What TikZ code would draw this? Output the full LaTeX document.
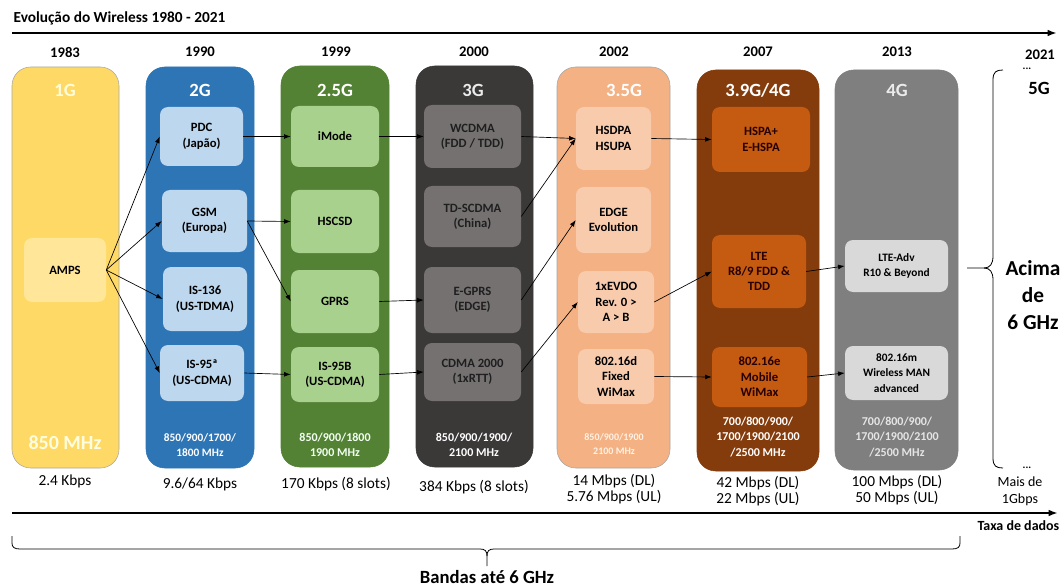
\documentclass[tikz,border=0pt]{standalone}
\usepackage{fontspec}
\setmainfont{Carlito}
\usetikzlibrary{arrows.meta}
\definecolor{cOne}{HTML}{FFD966}
\definecolor{cOneIn}{HTML}{FFE699}
\definecolor{cTwo}{HTML}{2E75B6}
\definecolor{cTwoIn}{HTML}{BDD7EE}
\definecolor{cTwoFive}{HTML}{548235}
\definecolor{cTwoFiveIn}{HTML}{A9D18E}
\definecolor{cThree}{HTML}{3B3838}
\definecolor{cThreeIn}{HTML}{757171}
\definecolor{cThreeFive}{HTML}{F4B183}
\definecolor{cThreeFiveIn}{HTML}{F8CBAD}
\definecolor{cLte}{HTML}{843C0C}
\definecolor{cLteIn}{HTML}{C55A11}
\definecolor{cFour}{HTML}{7F7F7F}
\definecolor{cFourIn}{HTML}{D9D9D9}
\tikzset{
	gcol/.style={rounded corners=14pt, line width=0.4pt},
	sz/.style 2 args={minimum width=#1*0.75pt, minimum height=#2*0.75pt},
	cell/.style={rounded corners=6pt, align=center, inner sep=1pt, font=\bfseries\fontsize{9.5}{11.5}\selectfont},
	link/.style={-{Latex[length=5pt,width=3.6pt]}, line width=0.5pt},
	axis/.style={-{Latex[length=7pt,width=5pt]}, line width=1.4pt},
	yr/.style={font=\bfseries\fontsize{11}{13}\selectfont},
	gen/.style={font=\bfseries\fontsize{14}{16}\selectfont},
	band/.style={align=center, font=\bfseries\fontsize{8.5}{11}\selectfont},
	rate/.style={align=center, font=\fontsize{11.5}{12.5}\selectfont},
}

\begin{document}
\begin{tikzpicture}[x=0.75pt, y=-0.75pt]
		%%%%% START %%%%%
		\useasboundingbox (0, 0) rectangle (1064, 588);
		
		\node[anchor=west, font=\bfseries\fontsize{11.5}{13}\selectfont] (ttl) at (9, 18) {Evolução do Wireless 1980 - 2021};
		\coordinate (top0) at (12, 33);
		\coordinate (top1) at (1057, 33);
		\draw[axis] (top0) -- (top1);
		
		% years
		\node[yr] (y83) at (65, 52) {1983};
		\node[yr] (y90) at (200, 52) {1990};
		\node[yr] (y99) at (336, 52) {1999};
		\node[yr] (y00) at (474, 52) {2000};
		\node[yr] (y02) at (614, 52) {2002};
		\node[yr] (y07) at (758, 52) {2007};
		\node[yr] (y13) at (897, 52) {2013};
		\node[yr, inner sep=1pt] (y21) at (1040, 55) {2021};
		
		% columns
		\draw[gcol, fill=cOne, draw=black!35] (12, 67) rectangle (119, 468);
		\draw[gcol, fill=cTwo, draw=cTwo] (146, 67) rectangle (254, 468);
		\draw[gcol, fill=cTwoFive, draw=cTwoFive] (281, 66) rectangle (389, 467);
		\draw[gcol, fill=cThree, draw=cThree] (416, 66) rectangle (533, 467);
		\draw[gcol, fill=cThreeFive, draw=black!35] (557, 67) rectangle (670, 468);
		\draw[gcol, fill=cLte, draw=cLte] (697, 70) rectangle (819, 471);
		\draw[gcol, fill=cFour, draw=cFour] (835, 70) rectangle (958, 470);
		
		\node[gen, text=yellow!15] (g1) at (65, 90) {1G};
		\node[gen, text=white] (g2) at (200, 90) {2G};
		\node[gen, text=white] (g25) at (335, 90) {2.5G};
		\node[gen, text=black!8] (g3) at (473, 90) {3G};
		\node[gen, text=white] (g35) at (624, 90) {3.5G};
		\node[gen, text=white] (g39) at (758, 90) {3.9G/4G};
		\node[gen, text=black!8] (g4) at (897, 90) {4G};
		
		% 1G
		\node[cell, sz={82}{64}, fill=cOneIn] (amps) at (65, 270) {AMPS};
		\node[font=\bfseries\fontsize{15}{17}\selectfont, text=yellow!12] (f1) at (65, 443) {850 MHz};
		
		% 2G
		\node[cell, sz={83}{59}, fill=cTwoIn] (pdc) at (201.5, 136.5) {PDC\\(Japão)};
		\node[cell, sz={85}{62}, fill=cTwoIn] (gsm) at (204.5, 221) {GSM\\(Europa)};
		\node[cell, sz={84}{64}, fill=cTwoIn] (is136) at (205, 299) {IS-136\\(US-TDMA)};
		\node[cell, sz={84}{56}, fill=cTwoIn] (is95) at (202, 373) {IS-95ª\\(US-CDMA)};
		\node[band, text=white] (f2) at (200, 445) {850/900/1700/\\1800 MHz};
		
		% 2.5G
		\node[cell, sz={88}{61}, fill=cTwoFiveIn] (imode) at (335, 136.5) {iMode};
		\node[cell, sz={88}{63}, fill=cTwoFiveIn] (hscsd) at (335, 221.5) {HSCSD};
		\node[cell, sz={88}{63}, fill=cTwoFiveIn] (gprs) at (335, 301.5) {GPRS};
		\node[cell, sz={88}{55}, fill=cTwoFiveIn] (is95b) at (335, 374.5) {IS-95B\\(US-CDMA)};
		\node[band, text=green!5, font=\bfseries\fontsize{9}{11}\selectfont] (f25) at (335, 444.5) {850/900/1800\\1900 MHz};
		
		% 3G
		\node[cell, sz={97}{63}, fill=cThreeIn, text=black!88] (wcdma) at (472.5, 136.5) {WCDMA\\(FDD / TDD)};
		\node[cell, sz={97}{61}, fill=cThreeIn, text=black!88] (tdscdma) at (472.5, 216.5) {TD-SCDMA\\(China)};
		\node[cell, sz={97}{66}, fill=cThreeIn, text=black!88] (egprs) at (472.5, 300) {E-GPRS\\(EDGE)};
		\node[cell, sz={97}{58}, fill=cThreeIn, text=black!88] (cdma) at (472.5, 372) {CDMA 2000\\(1xRTT)};
		\node[band, text=white, font=\bfseries\fontsize{9}{11}\selectfont] (f3) at (474, 444.5) {850/900/1900/\\2100 MHz};
		
		% 3.5G
		\node[cell, sz={75}{63}, fill=cThreeFiveIn] (hsdpa) at (613.5, 138.5) {HSDPA\\HSUPA};
		\node[cell, sz={75}{66}, fill=cThreeFiveIn] (edge) at (613.5, 220) {EDGE\\Evolution};
		\node[cell, sz={76}{62}, fill=cThreeFiveIn] (evdo) at (616, 302) {1xEVDO\\Rev. 0 >\\A > B};
		\node[cell, sz={76}{55}, fill=cThreeFiveIn] (fixed) at (616, 376.5) {802.16d\\Fixed\\WiMax};
		\node[band, text=orange!10, font=\bfseries\fontsize{7.5}{10.5}\selectfont] (f35) at (614, 444) {850/900/1900\\2100 MHz};
		
		% 3.9G/4G
		\node[cell, sz={98}{65}, fill=cLteIn, text=black!85!red] (hspa) at (761, 139.5) {HSPA+\\E-HSPA};
		\node[cell, sz={94}{73}, fill=cLteIn, text=black!85!red] (lte) at (759, 271.5) {LTE\\R8/9 FDD \&\\TDD};
		\node[cell, sz={95}{60}, fill=cLteIn, text=black!85!red] (mobile) at (759.5, 377) {802.16e\\Mobile\\WiMax};
		\node[band, text=white, font=\bfseries\fontsize{9}{11.5}\selectfont] (f39) at (758, 437) {700/800/900/\\1700/1900/2100\\/2500 MHz};
		
		% 4G
		\node[cell, sz={103}{52}, fill=cFourIn, font=\bfseries\fontsize{8.5}{11.5}\selectfont] (ltea) at (896.5, 266) {LTE-Adv\\R10 \& Beyond};
		\node[cell, sz={103}{54}, fill=cFourIn, font=\bfseries\fontsize{8.5}{11.5}\selectfont] (man) at (896.5, 373) {802.16m\\Wireless MAN\\advanced};
		\node[band, text=black!10, font=\bfseries\fontsize{9}{11.5}\selectfont] (f4) at (897, 437) {700/800/900/\\1700/1900/2100\\/2500 MHz};
		
		% links
		\draw[link] (amps.east) -- (pdc.west);
		\draw[link] (amps.east) -- (gsm.west);
		\draw[link] (amps.east) -- (is136.west);
		\draw[link] (amps.east) -- (is95.west);
		\draw[link] (pdc.east) -- (imode.west);
		\draw[link] (gsm.east) -- (hscsd.west);
		\draw[link] (gsm.east) -- (gprs.west);
		\draw[link] (is95.east) -- (is95b.west);
		\draw[link] (imode.east) -- (wcdma.west);
		\draw[link] (gprs.east) -- (egprs.west);
		\draw[link] (is95b.east) -- (cdma.west);
		\draw[link] (wcdma.east) -- (hsdpa.west);
		\draw[link] (tdscdma.east) -- (hsdpa.west);
		\draw[link] (egprs.east) -- (edge.west);
		\draw[link] (cdma.east) -- (evdo.west);
		\draw[link] (hsdpa.east) -- (hspa.west);
		\draw[link] (evdo.east) -- (lte.west);
		\draw[link] (fixed.east) -- (mobile.west);
		\draw[link] (lte.east) -- (ltea.west);
		\draw[link] (mobile.east) -- (man.west);
		
		% 5G
		\coordinate (tip) at (967, 268);
		\draw[line width=0.6pt] (1003, 70) .. controls (996, 70) and (993, 72) .. (993, 80) -- (993, 256) .. controls (993, 264) and (990, 268) .. (984, 268) -- (tip);
		\draw[line width=0.6pt] (984, 268) .. controls (990, 268) and (993, 272) .. (993, 280) -- (993, 458) .. controls (993, 466) and (996, 468) .. (1003, 468);
		\node[font=\bfseries\fontsize{8}{8}\selectfont, inner sep=0pt, anchor=base] (dt) at (1027, 70) {...};
		\node[font=\bfseries\fontsize{8}{8}\selectfont, inner sep=0pt, anchor=base] (db) at (1027, 468) {...};
		\node[gen] (g5) at (1039, 88) {5G};
		\node[align=center, font=\bfseries\fontsize{16}{20.5}\selectfont] (acima) at (1033, 295) {Acima\\de\\6 GHz};
		
		% rates
		\node[rate] (r1) at (65, 481) {2.4 Kbps};
		\node[rate] (r2) at (200, 484) {9.6/64 Kbps};
		\node[rate] (r25) at (336, 484) {170 Kbps (8 slots)};
		\node[rate] (r3) at (474, 487) {384 Kbps (8 slots)};
		\node[rate] (r35) at (614, 489) {14 Mbps (DL)\\5.76 Mbps (UL)};
		\node[rate] (r39) at (758, 491) {42 Mbps (DL)\\22 Mbps (UL)};
		\node[rate] (r4) at (897, 490) {100 Mbps (DL)\\50 Mbps (UL)};
		\node[rate, font=\fontsize{10.5}{12.5}\selectfont] (r5) at (1020, 491) {Mais de\\1Gbps};
		
		\coordinate (bot0) at (12, 513);
		\coordinate (bot1) at (1058, 513);
		\draw[axis] (bot0) -- (bot1);
		\node[anchor=east, font=\bfseries\fontsize{10.5}{12}\selectfont] (taxa) at (1064, 526) {Taxa de dados};
		
		% bands
		\draw[line width=0.6pt] (12, 536) -- (12, 543) .. controls (12, 547) and (14, 549) .. (20, 549) -- (480, 549) .. controls (485, 549) and (487, 551) .. (487, 556) -- (487, 566);
		\draw[line width=0.6pt] (487, 556) .. controls (487, 551) and (489, 549) .. (494, 549) -- (952, 549) .. controls (958, 549) and (960, 547) .. (960, 543) -- (960, 536);
		\node[font=\bfseries\fontsize{14}{16}\selectfont] (bandas) at (487, 577) {Bandas até 6 GHz};
		
		%%%%% END %%%%%
	\end{tikzpicture}
\end{document}
